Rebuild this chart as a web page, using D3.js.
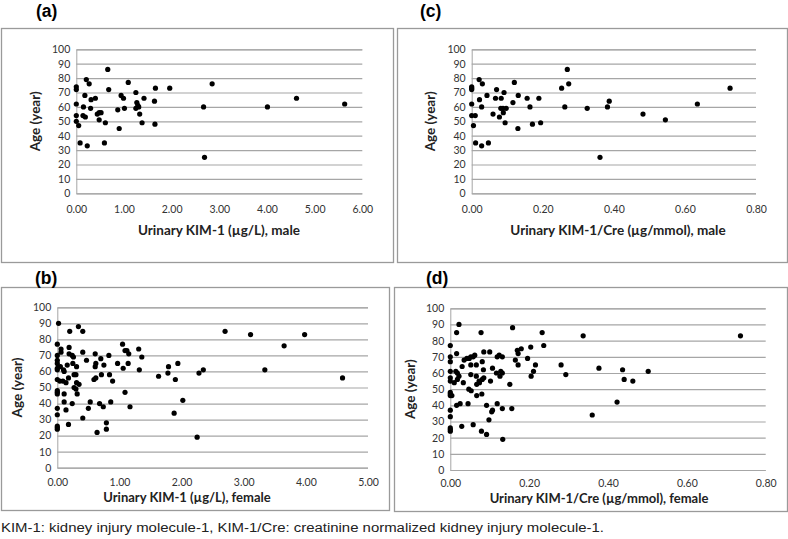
<!DOCTYPE html>
<html><head><meta charset="utf-8">
<script src="https://cdn.jsdelivr.net/npm/d3@7"></script>
<style>
body{margin:0;background:#fff;}
svg{display:block;}
</style></head>
<body>
<svg id="chart" width="788" height="539"></svg>
<script>
// ---- data: [urinary value, age (year)] ----
const maleKim = [
 [0,74],[0,72],[0,62],[0,54],[0,50],[0.05,47],[0.08,35],[0.23,33],[0.21,79],[0.27,76],
 [0.18,68],[0.15,60],[0.14,54],[0.19,53],[0.30,59],[0.31,65],[0.40,66],[0.44,55],[0.48,56],[0.52,56],
 [0.48,51],[0.61,49],[0.59,35],[0.66,86],[0.68,72],[0.87,58],[0.90,45],[0.94,68],[0.99,66],[1.01,59],
 [1.09,77],[1.25,70],[1.27,63],[1.29,61],[1.25,59],[1.31,60],[1.33,55],[1.38,49],[1.42,66],[1.64,64],
 [1.66,73],[1.65,48],[1.96,73],[2.67,60],[2.69,25],[2.85,76],[4.01,60],[4.62,66],[5.63,62]
];
const maleKimCre = [
 [0,74],[0,73],[0,72],[0,62],[0,54],[0.010,54],[0.005,47],[0.011,35],[0.028,33],[0.047,35],
 [0.021,79],[0.030,76],[0.022,65],[0.028,60],[0.043,68],[0.060,55],[0.067,66],[0.070,72],[0.083,66],[0.078,53],
 [0.082,59],[0.088,59],[0.089,56],[0.091,70],[0.097,59],[0.094,49],[0.116,63],[0.120,77],[0.131,68],[0.130,45],
 [0.156,66],[0.164,60],[0.171,48],[0.189,66],[0.194,49],[0.253,73],[0.262,60],[0.269,86],[0.273,76],[0.325,59],
 [0.361,25],[0.382,60],[0.387,64],[0.482,55],[0.545,51],[0.635,62],[0.727,73]
];
const femaleKim = [
 [0.02,90],[0.20,85],[0.34,88],[0.41,85],[0,77],[0.06,74],[0.06,72],[0.19,75],
 [0,70],[0,67],[0,65],[0,62],[0,61],[0.05,63],[0.10,61],[0.19,71],[0.24,70],[0.26,69],[0.16,64],[0.25,65],
 [0.31,63],[0.41,72],[0.47,67],[0.61,71],[0.61,63],[0.62,65],[0.70,68],[0.75,64],[0.83,70],[0.97,65],
 [1.05,77],[1.09,73],[1.12,73],[1.15,71],[1.14,65],[1.06,62],[0,55],[0.04,54],[0.09,54],[0.14,53],
 [0.11,60],[0.18,56],[0.27,58],[0.30,58],[0.27,50],[0.30,49],[0.31,53],[0.35,52],[0,48],[0,47],
 [0,46],[0.11,46],[0.32,46],[0.24,40],[0.11,41],[0.50,37],[0.53,41],[0.41,31],[0.68,40],[0.74,38],
 [0.86,41],[0,37],[0,33],[0.14,36],[0,26],[0,25],[0,24],[0.18,27],[0.64,22],[0.79,28],
 [0.79,24],[0.59,55],[0.62,56],[0.71,58],[0.84,58],[0.89,54],[1.09,47],[1.17,38],[1.31,74],[1.36,69],
 [1.32,61],[1.63,57],[1.79,63],[1.78,59],[1.94,65],[1.90,55],[2.28,59],[2.35,61],[2.02,42],[1.88,34],
 [2.25,19],[2.70,85],[3.11,83],[3.34,61],[3.65,76],[3.98,83],[4.59,56]
];
const femaleKimCre = [
 [0.022,90],[0.016,85],[0.078,85],[0.158,88],[0,77],[0.016,72],[0,70],[0,67],[0,61],[0,57],
 [0,55],[0,48],[0,47],[0,46],[0.004,46],[0,37],[0,33],[0,26],[0,25],[0,24],
 [0.014,61],[0.018,60],[0.022,58],[0.018,56],[0.010,54],[0.030,64],[0.033,54],[0.035,68],[0.042,69],[0.048,69],
 [0.052,70],[0.058,70],[0.062,71],[0.052,65],[0.066,65],[0.052,59],[0.066,58],[0.073,55],[0.067,53],[0.074,54],
 [0.047,50],[0.053,49],[0.084,62],[0.085,57],[0.081,56],[0.081,67],[0.085,73],[0.100,73],[0.107,63],[0.117,60],
 [0.126,58],[0.132,60],[0.128,61],[0.102,55],[0.119,70],[0.124,71],[0.132,70],[0.151,53],[0.165,68],[0.170,74],
 [0.172,72],[0.180,75],[0.172,65],[0.196,69],[0.204,76],[0.205,58],[0.211,61],[0.216,65],[0.233,85],[0.237,77],
 [0.067,46],[0.080,47],[0.016,40],[0.025,41],[0.045,41],[0.092,40],[0.107,37],[0.105,36],[0.119,41],[0.132,38],
 [0.156,38],[0.098,31],[0.029,27],[0.058,28],[0.079,24],[0.092,22],[0.133,19],
 [0.281,65],[0.293,59],[0.337,83],[0.360,34],[0.377,63],[0.423,42],[0.437,62],[0.441,56],[0.463,55],
 [0.502,61],[0.736,83]
];
// ---- tick values ----
const ageTicks = [0,10,20,30,40,50,60,70,80,90,100];
const kimMaleTicks = [0,1,2,3,4,5,6];
const kimFemaleTicks = [0,1,2,3,4,5];
const creTicks = [0,0.2,0.4,0.6,0.8];
// ---- labels ----
const panelLabels = ["(a)","(b)","(c)","(d)"];
const xTitles = ["Urinary KIM-1 (\u00b5g/L), male","Urinary KIM-1 (\u00b5g/L), female",
                 "Urinary KIM-1/Cre (\u00b5g/mmol), male","Urinary KIM-1/Cre (\u00b5g/mmol), female"];
const yTitle = "Age (year)";
const footnote = "KIM-1: kidney injury molecule-1, KIM-1/Cre: creatinine normalized kidney injury molecule-1.";

const svg = d3.select("#chart");
const FONT = "Lato, 'Open Sans', sans-serif";
const GRID = "#a6a6a6";

const panels = [
 {data: maleKim, ticks: kimMaleTicks, lab: panelLabels[0], title: xTitles[0],
  box:[1,28,393,262], px:[76.3,362.3], py:[193.3,49.3], labXY:[36,17], titleX:219, tickY:213, titleY:235, yTitleX:35, tfs:13.5},
 {data: maleKimCre, ticks: creTicks, lab: panelLabels[2], title: xTitles[2],
  box:[397,28,787,262], px:[471.7,756], py:[193.3,49.3], labXY:[420,17], titleX:618, tickY:213, titleY:235, yTitleX:430, tfs:13.5},
 {data: femaleKim, ticks: kimFemaleTicks, lab: panelLabels[1], title: xTitles[1],
  box:[1,287,389,510], px:[57.3,368], py:[467.7,307.3], labXY:[35,284], titleX:187, tickY:486, titleY:502, yTitleX:17, tfs:13},
 {data: femaleKimCre, ticks: creTicks, lab: panelLabels[3], title: xTitles[3],
  box:[394,287,787,511], px:[450.3,765.7], py:[470,308.3], labXY:[426,284], titleX:599, tickY:487, titleY:503, yTitleX:410, tfs:13}
];

panels.forEach(p => {
  const g = svg.append("g");
  g.append("rect").attr("x",p.box[0]+0.5).attr("y",p.box[1]+0.5)
   .attr("width",p.box[2]-p.box[0]).attr("height",p.box[3]-p.box[1])
   .attr("fill","#fff").attr("stroke","#9a9a9a").attr("stroke-width",1.3);
  svg.append("text").attr("x",p.labXY[0]).attr("y",p.labXY[1]).text(p.lab)
   .attr("font-family","'Liberation Sans', Arial, sans-serif").attr("font-weight","bold")
   .attr("font-size",17.5).attr("fill","#000");

  const xMax = p.ticks[p.ticks.length-1];
  const x = d3.scaleLinear().domain([0,xMax]).range(p.px);
  const y = d3.scaleLinear().domain([0,100]).range(p.py);

  const yAxis = d3.axisLeft(y).tickValues(ageTicks).tickSize(-(p.px[1]-p.px[0])).tickPadding(6);
  const ya = g.append("g").attr("transform",`translate(${p.px[0]},0)`).call(yAxis);
  ya.select(".domain").attr("stroke",GRID);
  ya.selectAll(".tick line").attr("stroke",GRID).attr("stroke-width",1.2);
  ya.selectAll(".tick text").attr("font-family",FONT).attr("font-size",10.5).attr("fill","#333");

  const xAxis = d3.axisBottom(x).tickValues(p.ticks).tickSize(0).tickFormat(d3.format(".2f")).tickPadding(0);
  const xa = g.append("g").attr("transform",`translate(0,${p.tickY})`).call(xAxis);
  xa.select(".domain").remove();
  xa.selectAll(".tick text").attr("font-family",FONT).attr("font-size",10.5).attr("fill","#333").attr("dy",0);

  g.append("text").attr("x",p.titleX).attr("y",p.titleY).attr("text-anchor","middle")
   .attr("font-family",FONT).attr("font-weight","bold").attr("font-size",p.tfs).attr("fill","#222").text(p.title);
  const yc = (p.py[0]+p.py[1])/2;
  g.append("text").attr("transform",`translate(${p.yTitleX+5},${yc}) rotate(-90)`).attr("text-anchor","middle")
   .attr("font-family",FONT).attr("font-weight","bold").attr("font-size",13.5).attr("fill","#222").text(yTitle);

  g.append("g").selectAll("circle").data(p.data).join("circle")
   .attr("cx",d=>x(d[0])).attr("cy",d=>y(d[1])).attr("r",2.6).attr("fill","#000");
});

svg.append("text").attr("x",1).attr("y",532).text(footnote)
 .attr("font-family","'Liberation Sans Narrow','Liberation Sans',Arial,sans-serif")
 .attr("font-size",12.5).attr("fill","#222").attr("textLength",603).attr("lengthAdjust","spacingAndGlyphs");
</script>
</body></html>
